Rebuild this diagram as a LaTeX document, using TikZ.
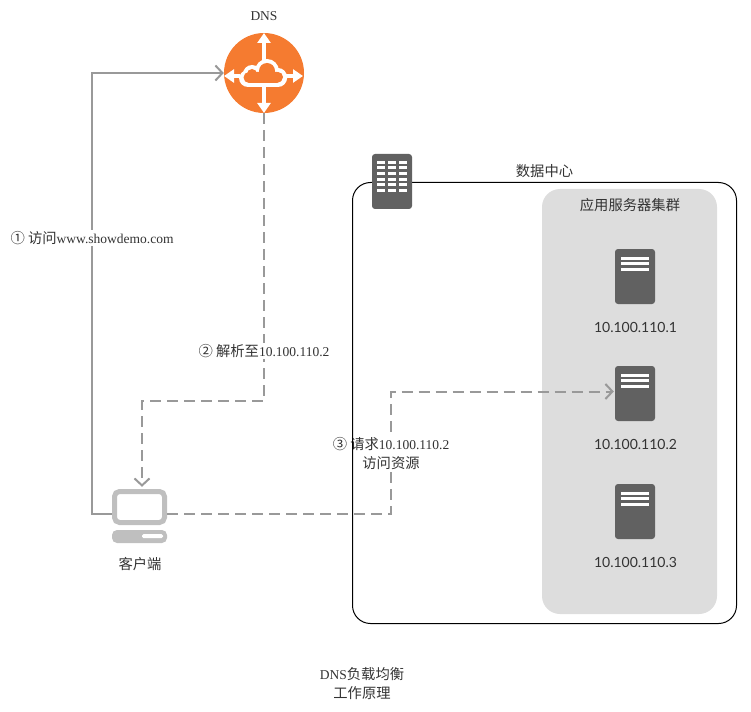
\documentclass[tikz,border=0pt]{standalone}
\usepackage{fontspec}
\usepackage{xcolor}
\usetikzlibrary{arrows.meta}
\setmainfont{Liberation Serif}
\newfontfamily\cjk{Noto Sans CJK SC}[Scale=1.06]
\newfontfamily\latofont{Lato}
\newcommand{\zh}[1]{{\cjk #1}}
\definecolor{dnsorange}{HTML}{F57B30}
\definecolor{iconink}{HTML}{616161}
\definecolor{clientgrey}{HTML}{BFBFBF}
\definecolor{clustergrey}{HTML}{DDDDDD}
\definecolor{flowgrey}{HTML}{999999}
\definecolor{textink}{HTML}{333333}

\tikzset{
  labeltext/.style={text=textink, inner sep=1pt, align=center, font=\fontsize{13.5}{19}\selectfont},
  flowlabel/.style={labeltext, fill=white},
  addrlabel/.style={text=textink, inner sep=0pt, font=\latofont\fontsize{14}{17}\selectfont},
  flow/.style={draw=flowgrey, line width=2pt, -{Straight Barb[length=7pt,width=15pt]}},
  flowdash/.style={flow, dash pattern=on 11pt off 6pt},
  servericon/.style={fill=iconink, rounded corners=3pt, minimum width=40pt, minimum height=55pt, inner sep=0pt}
}

\begin{document}
\begin{tikzpicture}[x=1pt, y=-1pt]
  \useasboundingbox (0,0) rectangle (751,711);

  \fill[clustergrey, rounded corners=18pt] (542,189) rectangle (717,614);

  % dns icon
  \node[circle, fill=dnsorange, minimum size=80pt, inner sep=0pt] (dns) at (264,73) {};
  \foreach \xa/\ya/\xb/\yb in {264/60/264/33, 264/86/264/113, 240/76/224/76, 286/76/303/76}
    \draw[white, line width=4pt, -{Triangle[length=10pt,width=13pt]}] (\xa,\ya) -- (\xb,\yb);
  \fill[white, rounded corners=9pt] (239,70) rectangle (287,87);
  \fill[white] (252,74) circle (9pt) (267,71) circle (12pt) (278,77) circle (9pt);
  \fill[dnsorange, rounded corners=5.5pt] (243.5,72) rectangle (282.5,83);
  \fill[dnsorange] (252,74) circle (5pt) (267,71) circle (8pt) (278,77) circle (5pt);

  % client icon
  \node[minimum width=55pt, minimum height=50pt, inner sep=0pt] (client) at (139.5,514) {};
  \draw[clientgrey, line width=5pt, rounded corners=5pt] (114.5,491.5) rectangle (164.5,522.5);
  \fill[clientgrey, rounded corners=5pt] (112,530) rectangle (167,543);
  \fill[white, rounded corners=1.5pt] (142,534) rectangle (163,538);

  % servers
  \foreach \n/\ypos/\ylabel in {1/276.5/327, 2/393.5/444, 3/511.5/562} {
    \node[servericon] (server\n) at (635,\ypos) {};
    \foreach \dy in {-18.2,-12.7,-7.2}
      \fill[white] (621,\ypos+\dy-1.5) rectangle (649,\ypos+\dy+1.5);
    \node[addrlabel] (addr\n) at (635.5,\ylabel) {10.100.110.\n};
  }

  % connectors
  \coordinate (leftbend) at (92,73);
  \coordinate (midbend) at (142,401);
  \coordinate (rightbend) at (391,514);
  \draw[flow] (client.west) -| (leftbend) -- (dns.west);
  \draw[flowdash] (dns.south) |- (midbend) -- ([xshift=2.5pt,yshift=2pt]client.north);
  \draw[flowdash] (client.east) -- (rightbend) |- ([yshift=2pt,xshift=-1pt]server2.west);

  \node[flowlabel] (step1) at (92,238) {\zh{① 访问}www.showdemo.com};
  \node[flowlabel] (step2) at (264,351) {\zh{② 解析至}10.100.110.2};
  \node[flowlabel] (step3) at (391,454) {\zh{③ 请求}10.100.110.2\\\zh{访问资源}};

  % data center
  \draw[black, line width=1pt, rounded corners=18pt] (352.5,182.5) rectangle (736.5,623.5);
  \node[servericon] (dcicon) at (392,181.5) {};
  \foreach \y in {162.5,168,174,179.5,185,190.5}
    \foreach \x in {377,388,399}
      \fill[white] (\x,\y-1.5) rectangle (\x+8,\y+1.5);

  \node[labeltext] (dnslabel) at (264,16) {DNS};
  \node[labeltext] (dclabel) at (544.5,171) {\zh{数据中心}};
  \node[labeltext] (clusterlabel) at (630,205) {\zh{应用服务器集群}};
  \node[labeltext] (clientlabel) at (140,564) {\zh{客户端}};
  \node[labeltext] (title) at (362,684) {DNS\zh{负载均衡}\\\zh{工作原理}};
\end{tikzpicture}
\end{document}
